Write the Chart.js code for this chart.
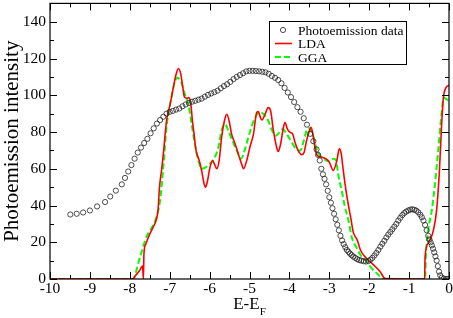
<!DOCTYPE html>
<html>
<head>
<meta charset="utf-8">
<script src="https://cdn.jsdelivr.net/npm/chart.js@4/dist/chart.umd.min.js"></script>
<style>
  html, body { margin: 0; padding: 0; background: #fff; }
  #chart { display: block; }
</style>
</head>
<body>
<canvas id="chart" width="453" height="318"></canvas>
<script>
// photoemission data (circles)
const peX = [-9.49, -9.33, -9.17, -9.00, -8.82, -8.62, -8.49, -8.35, -8.20, -8.12, -8.04, -7.96, -7.88, -7.80,
  -7.72, -7.64, -7.56, -7.48, -7.40, -7.32, -7.24, -7.16, -7.08, -7.00, -6.92, -6.84, -6.76, -6.68, -6.60,
  -6.52, -6.44, -6.36, -6.28, -6.20, -6.12, -6.04, -5.96, -5.88, -5.80, -5.72, -5.64, -5.56, -5.48, -5.40,
  -5.32, -5.24, -5.16, -5.08, -5.00, -4.92, -4.84, -4.76, -4.68, -4.60, -4.52, -4.44, -4.36, -4.28, -4.20,
  -4.12, -4.04, -3.96, -3.88, -3.80, -3.72, -3.64, -3.56, -3.48, -3.40, -3.32, -3.28, -3.24, -3.20, -3.16,
  -3.12, -3.08, -3.04, -3.00, -2.96, -2.92, -2.88, -2.84, -2.80, -2.76, -2.72, -2.68, -2.64, -2.60, -2.56,
  -2.52, -2.48, -2.44, -2.40, -2.35, -2.30, -2.25, -2.20, -2.14, -2.08, -2.02, -1.97, -1.92, -1.87, -1.82,
  -1.77, -1.72, -1.67, -1.62, -1.57, -1.52, -1.47, -1.42, -1.37, -1.32, -1.27, -1.22, -1.17, -1.12, -1.07,
  -1.02, -0.97, -0.92, -0.87, -0.82, -0.77, -0.72, -0.68, -0.64, -0.60, -0.56, -0.52, -0.49, -0.46, -0.43,
  -0.40, -0.37, -0.34, -0.31, -0.28, -0.25, -0.22, -0.18, -0.13, -0.08, -0.03];
const peY = [35.1, 35.5, 36.2, 37.3, 39.5, 41.9, 44.9, 48.1, 51.5, 55.0, 58.5, 62.0, 65.5, 68.8,
  71.5, 74.0, 76.3, 79.3, 82.0, 84.6, 86.5, 88.3, 90.0, 91.0, 91.5, 92.2, 92.8, 94.0, 95.0,
  95.8, 96.5, 97.0, 97.6, 98.2, 99.2, 100.2, 101.0, 101.7, 102.5, 103.8, 105.0, 106.0, 107.3, 108.8,
  110.0, 111.0, 112.0, 113.0, 113.3, 113.3, 113.2, 113.0, 112.8, 112.5, 111.7, 110.5, 109.5, 108.3, 106.5,
  104.0, 101.5, 99.0, 96.3, 93.5, 91.0, 87.5, 84.0, 79.0, 75.0, 70.5, 67.5, 64.5, 60.0, 57.0,
  54.5, 51.5, 48.0, 44.5, 41.5, 38.5, 35.5, 32.5, 29.5, 26.5, 23.5, 21.0, 19.0, 17.3, 15.8,
  14.8, 13.8, 13.0, 12.2, 11.5, 10.8, 10.3, 10.0, 9.7, 9.5, 9.8, 10.5, 11.5, 12.8, 14.2,
  15.8, 17.6, 19.2, 20.8, 22.6, 24.2, 25.6, 27.0, 28.5, 30.0, 31.8, 33.3, 34.8, 35.9, 36.7,
  37.3, 37.8, 37.9, 37.7, 37.2, 36.3, 35.0, 33.6, 31.8, 29.4, 26.5, 23.5, 21.5, 20.0, 18.3,
  16.5, 14.5, 12.3, 10.0, 7.0, 4.0, 2.0, 0.8, 0.2, 0.0, 0.0];

// LDA (red)
const ldaX = [-10, -7.93, -7.85, -7.76, -7.68, -7.66, -7.645, -7.60, -7.52, -7.42, -7.34, -7.29, -7.26, -7.20,
  -7.16, -7.08, -6.99, -6.91, -6.84, -6.78, -6.72, -6.67, -6.63, -6.57, -6.52, -6.47, -6.43, -6.39, -6.34,
  -6.26, -6.20, -6.14, -6.10, -6.05, -5.99, -5.93, -5.88, -5.82, -5.76, -5.70, -5.63, -5.57, -5.51, -5.45,
  -5.36, -5.28, -5.20, -5.15, -5.07, -4.99, -4.90, -4.82, -4.78, -4.72, -4.69, -4.61, -4.53, -4.47, -4.40,
  -4.32, -4.28, -4.22, -4.15, -4.11, -4.05, -3.98, -3.92, -3.86, -3.78, -3.69, -3.63, -3.57, -3.50, -3.46,
  -3.41, -3.36, -3.30, -3.19, -3.08, -3.00, -2.90, -2.81, -2.75, -2.70, -2.65, -2.58, -2.52, -2.46, -2.40,
  -2.30, -2.22, -2.11, -1.98, -1.85, -1.73, -1.60, -0.61, -0.60, -0.52, -0.39, -0.31, -0.24, -0.18, -0.14,
  -0.08, 0];
const ldaY = [0, 0, 2, 4.5, 7, 0, 14, 19, 23.5, 28, 32, 38, 49, 60,
  68, 86, 95, 104, 111.4, 114.6, 111.4, 104, 99, 98.4, 98.7, 95, 86, 79, 70,
  64.5, 59, 52, 50, 53.7, 60.9, 64.5, 62.7, 60, 64.5, 77, 86, 89.7, 86, 79,
  73.5, 68.1, 62.7, 60, 64.5, 71.7, 79, 90.6, 91.1, 87.5, 86.5, 89.7, 93.3, 91.5, 80.7,
  71.7, 69.4, 73.5, 82.5, 85.2, 81.6, 79.8, 79, 74.4, 69.9, 67.7, 69, 75.3, 80.7, 82.5,
  79, 71.7, 67.2, 66.3, 65.4, 63.6, 59.1, 64.5, 70.8, 68.1, 59, 48, 40, 33, 25.5,
  21.2, 15.8, 12.2, 9.5, 6.8, 4.1, 0.3, 0, 12, 19.5, 26.6, 37.5, 59, 86, 98.7,
  104, 105.5];

// GGA (green dashed)
const ggaX = [-10, -7.93, -7.74, -7.58, -7.41, -7.30, -7.24, -7.16, -7.08, -6.99, -6.89, -6.81, -6.72, -6.62,
  -6.53, -6.45, -6.37, -6.28, -6.20, -6.09, -5.99, -5.91, -5.78, -5.70, -5.61, -5.53, -5.43, -5.32, -5.22,
  -5.11, -5.03, -4.96, -4.86, -4.74, -4.64, -4.53, -4.43, -4.34, -4.25, -4.17, -4.07, -3.94, -3.83, -3.73,
  -3.65, -3.57, -3.50, -3.41, -3.33, -3.23, -3.11, -3.00, -2.90, -2.83, -2.78, -2.69, -2.61, -2.52, -2.44,
  -2.31, -2.19, -2.06, -1.94, -1.77, -1.65, -0.60, -0.58, -0.52, -0.43, -0.35, -0.27, -0.18, -0.13, -0.06, 0];
const ggaY = [0, 0, 12.2, 23, 29.4, 36, 43, 61, 82.5, 95, 106, 109.5, 107.7, 100.5,
  95, 84.3, 73.5, 64.5, 60, 60.9, 62.7, 64.5, 71.7, 80.7, 84.3, 80.7, 75.3, 69.9, 65.4,
  70.8, 77, 82, 87.9, 90.6, 89.7, 86.1, 80.7, 78, 79.8, 81.6, 79, 74.4, 70.8, 69.9,
  74.4, 80.7, 82, 78, 71.7, 67.2, 64.9, 63.9, 65.4, 64.5, 57.3, 48.3, 39.5, 32, 23,
  16.8, 12.2, 9.5, 5.9, 2.3, 0, 0, 12.2, 26.6, 37.5, 51.9, 70, 91.5, 98.7, 97.8, 97];

const xTicks = [-10, -9, -8, -7, -6, -5, -4, -3, -2, -1, 0];
const yTicks = [0, 20, 40, 60, 80, 100, 120, 140];

const serif = "'Liberation Serif', 'DejaVu Serif', serif";

function pts(xs, ys) {
  return xs.map((x, i) => ({ x: x, y: ys[i] }));
}

// frame, inward ticks, legend box, x title with subscript
const decor = {
  id: 'decor',
  afterDraw(chart) {
    const ctx = chart.ctx;
    const a = chart.chartArea;
    const sx = chart.scales.x, sy = chart.scales.y;
    ctx.save();
    ctx.strokeStyle = '#000';
    ctx.lineWidth = 1.2;
    ctx.strokeRect(a.left, a.top, a.right - a.left, a.bottom - a.top);

    ctx.lineWidth = 1;
    ctx.beginPath();
    for (let v = -10; v <= 0.001; v += 0.5) {
      const px = Math.round(sx.getPixelForValue(v)) + 0.5;
      const len = Math.abs(v - Math.round(v)) < 0.01 ? 7 : 4;
      ctx.moveTo(px, a.bottom); ctx.lineTo(px, a.bottom - len);
      ctx.moveTo(px, a.top); ctx.lineTo(px, a.top + len);
    }
    for (let v = 0; v <= 150; v += 10) {
      const py = Math.round(sy.getPixelForValue(v)) + 0.5;
      const len = v % 20 === 0 ? 7 : 4;
      ctx.moveTo(a.left, py); ctx.lineTo(a.left + len, py);
      ctx.moveTo(a.right, py); ctx.lineTo(a.right - len, py);
    }
    ctx.stroke();

    // legend
    const lx = 269.5, ly = 21.5, lw = 137, lh = 43;
    ctx.fillStyle = '#fff';
    ctx.fillRect(lx, ly, lw, lh);
    ctx.lineWidth = 1;
    ctx.strokeStyle = '#000';
    ctx.strokeRect(lx, ly, lw, lh);
    const ds = chart.data.datasets;
    const rows = [30, 43.5, 57];
    ctx.font = '13.5px ' + serif;
    ctx.textBaseline = 'middle';
    ds.forEach((d, i) => {
      const ry = rows[i];
      ctx.save();
      ctx.strokeStyle = d.borderColor;
      ctx.lineWidth = d.borderWidth;
      if (d.showLine) {
        ctx.setLineDash(d.borderDash || []);
        ctx.beginPath();
        ctx.moveTo(275, ry); ctx.lineTo(292, ry);
        ctx.stroke();
      } else {
        ctx.beginPath();
        ctx.arc(283, ry, d.pointRadius, 0, Math.PI * 2);
        ctx.stroke();
      }
      ctx.restore();
      ctx.fillStyle = '#000';
      ctx.fillText(d.label, 298, ry + 1);
    });

    // x title E-E_F
    ctx.fillStyle = '#000';
    ctx.font = '17px ' + serif;
    ctx.textBaseline = 'alphabetic';
    const main = 'E-E';
    const w1 = ctx.measureText(main).width;
    ctx.font = '11px ' + serif;
    const w2 = ctx.measureText('F').width;
    const cx = (a.left + a.right) / 2;
    const x0 = cx - (w1 + w2) / 2;
    ctx.font = '17px ' + serif;
    ctx.fillText(main, x0, 309);
    ctx.font = '11px ' + serif;
    ctx.fillText('F', x0 + w1, 315);
    ctx.restore();
  }
};

const tickFont = { family: serif, size: 15.5 };

new Chart(document.getElementById('chart'), {
  type: 'scatter',
  data: {
    datasets: [
      {
        label: 'Photoemission data',
        data: pts(peX, peY),
        showLine: false,
        pointStyle: 'circle',
        pointRadius: 2.6,
        pointHoverRadius: 2.6,
        borderWidth: 0.8,
        borderColor: '#222',
        backgroundColor: 'rgba(0,0,0,0)'
      },
      {
        label: 'LDA',
        data: pts(ldaX, ldaY),
        showLine: true,
        borderColor: '#ff0000',
        borderWidth: 1.6,
        pointRadius: 0,
        cubicInterpolationMode: 'monotone'
      },
      {
        label: 'GGA',
        data: pts(ggaX, ggaY),
        showLine: true,
        borderColor: '#00ff00',
        borderWidth: 2,
        borderDash: [6, 3],
        pointRadius: 0,
        cubicInterpolationMode: 'monotone'
      }
    ]
  },
  options: {
    responsive: false,
    animation: false,
    devicePixelRatio: 1,
    layout: { padding: { top: 2, right: 4, left: 0, bottom: 0 } },
    plugins: {
      legend: { display: false },
      tooltip: { enabled: false }
    },
    scales: {
      x: {
        type: 'linear',
        min: -10,
        max: 0,
        afterBuildTicks: s => { s.ticks = xTicks.map(v => ({ value: v })); },
        afterFit: s => { s.height = 39; s.paddingLeft = 0; s.paddingRight = 0; },
        ticks: { font: tickFont, color: '#000', padding: 1, maxRotation: 0, autoSkip: false },
        grid: { display: false, drawTicks: false },
        border: { display: false }
      },
      y: {
        type: 'linear',
        min: 0,
        max: 150,
        afterBuildTicks: s => { s.ticks = yTicks.map(v => ({ value: v })); },
        afterFit: s => { s.width = 50; s.paddingTop = 0; s.paddingBottom = 0; },
        ticks: { font: tickFont, color: '#000', padding: 4, autoSkip: false },
        grid: { display: false, drawTicks: false },
        border: { display: false },
        title: {
          display: true,
          text: 'Photoemission intensity',
          font: { family: serif, size: 21 },
          color: '#000',
          padding: { top: 0, bottom: 0 }
        }
      }
    }
  },
  plugins: [decor]
});
</script>
</body>
</html>
